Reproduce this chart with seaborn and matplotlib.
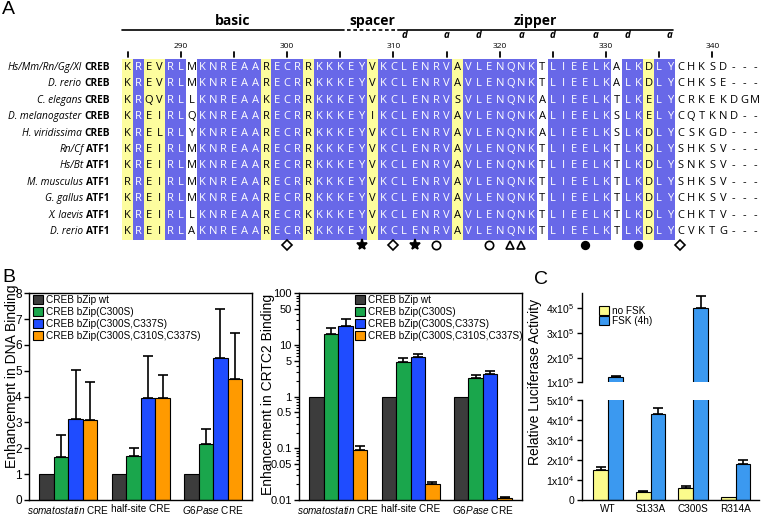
import numpy as np
import pandas as pd
import matplotlib
matplotlib.use("Agg")
import matplotlib.pyplot as plt
from matplotlib.colors import ListedColormap
from matplotlib.patches import Patch
from matplotlib.ticker import NullFormatter, LogLocator
import seaborn as sns

# ---------------- panel A: bZIP alignment ----------------
first_residue = 285
species = ["Hs/Mm/Rn/Gg/Xl", "D. rerio", "C. elegans", "D. melanogaster", "H. viridissima",
           "Rn/Cf", "Hs/Bt", "M. musculus", "G. gallus", "X. laevis", "D. rerio"]
genes = ["CREB"] * 5 + ["ATF1"] * 6
sequences = [
    "KREVRLMKNREAARECRRKKKEYVKCLENRVAVLENQNKTLIEELKALKDLYCHKSD---",
    "KREVRLMKNREAARECRRKKKEYVKCLENRVAVLENQNKTLIEELKALKDLYCHKSE---",
    "KRQVRLLKNREAAKECRRKKKEYVKCLENRVSVLENQNKALIEELKTLKELYCRKEKDGM",
    "KREIRLQKNREAARECRRKKKEYIKCLENRVAVLENQNKALIEELKSLKELYCQTKND--",
    "KRELRLYKNREAARECRRKKKEYVKCLENRVAVLENQNKALIEELKSLKDLYCSKGD---",
    "KREIRLMKNREAARECRRKKKEYVKCLENRVAVLENQNKTLIEELKTLKDLYSHKSV---",
    "KREIRLMKNREAARECRRKKKEYVKCLENRVAVLENQNKTLIEELKTLKDLYSNKSV---",
    "RREIRLMKNREAARECRRKKKEYVKCLENRVAVLENQNKTLIEELKTLKDLYSHKSV---",
    "KREIRLMKNREAARECRRKKKEYVKCLENRVAVLENQNKTLIEELKTLKDLYCHKSV---",
    "KREIRLLKNREAARECRKKKKEYVKCLENRVAVLENQNKTLIEELKTLKDLYCHKTV---",
    "KREIRLAKNREAARECRRKKKEYVKCLENRVAVLENQNKTLIEELKTLKDLYCVKTG---",
]
# 0 = not conserved, 1 = similar, 2 = identical
conservation = ("1211220" "222222" "1" "222" "1" "22222" "1" "2222222" "1"
                "2222222" "0" "222222" "0" "22" "1" "22" "00000000")
domains = [("basic", 284.5, 305.3, "-"), ("spacer", 305.6, 310.4, (0, (2.2, 1.6))),
           ("zipper", 310.4, 336.3, "-")]
heptad_d = [311, 318, 325, 332]
heptad_a = [315, 322, 329, 336]
site_open_diamond = [300, 310, 337]
site_star = [307, 312]
site_open_circle = [314, 319]
site_open_triangle = [321, 322]
site_filled_circle = [328, 333]

# ---------------- panel B ----------------
cre_sites = [r"$\mathit{somatostatin}$ CRE", "half-site CRE", r"$\mathit{G6Pase}$ CRE"]
constructs = ["CREB bZip wt", "CREB bZip(C300S)", "CREB bZip(C300S,C337S)",
              "CREB bZip(C300S,C310S,C337S)"]
dna_values = [[1, 1, 1], [1.65, 1.70, 2.18], [3.15, 3.93, 5.50], [3.08, 3.95, 4.68]]
dna_errors = [[0, 0, 0], [0.85, 0.30, 0.58], [1.90, 1.65, 1.90], [1.50, 0.90, 1.80]]
crtc2_values = [[1, 1, 1], [16.3, 4.76, 2.26], [23.3, 5.86, 2.75], [0.093, 0.020, 0.0108]]
crtc2_errors = [[0, 0, 0], [5.4, 0.93, 0.37], [8.1, 0.84, 0.39], [0.020, 0.0026, 0.0005]]
crtc2_ticks = [0.01, 0.05, 0.1, 0.5, 1, 5, 10, 50, 100]
crtc2_ticklabels = ["0.01", "0.05", "0.1", "0.5", "1", "5", "10", "50", "100"]

# ---------------- panel C ----------------
mutants = ["WT", "S133A", "C300S", "R314A"]
treatments = ["no FSK", "FSK (4h)"]
luc_no_fsk = [1.5e4, 4.2e3, 5.9e3, 1.3e3]
luc_no_fsk_err = [1.5e3, 4e2, 9e2, 0]
luc_fsk = [1.2e5, 4.32e4, 4.0e5, 1.81e4]
luc_fsk_err = [7e3, 3e3, 5e4, 1.9e3]
low_ticks = [0, 1e4, 2e4, 3e4, 4e4, 5e4]
low_ticklabels = ["0", "1x10$^4$", "2x10$^4$", "3x10$^4$", "4x10$^4$", "5x10$^4$"]
high_ticks = [1e5, 2e5, 3e5, 4e5]
high_ticklabels = ["1x10$^5$", "2x10$^5$", "3x10$^5$", "4x10$^5$"]

bar_colors = ["#3c3c3c", "#1aa64c", "#1f4cff", "#ff9a00"]
luc_colors = ["#fbfb8c", "#3b99f0"]

sns.set_style("ticks", {"axes.edgecolor": "black", "xtick.color": "black",
                        "ytick.color": "black", "text.color": "black",
                        "axes.labelcolor": "black"})
plt.rcParams.update({
    "font.family": ["Liberation Sans", "DejaVu Sans"],
    "mathtext.fontset": "custom",
    "mathtext.rm": "Liberation Sans",
    "mathtext.it": "Liberation Sans:italic",
    "mathtext.bf": "Liberation Sans:bold",
    "mathtext.default": "regular",
    "axes.linewidth": 1.0,
})

W, H = 761, 515
fig = plt.figure(figsize=(W / 100, H / 100), dpi=100)


def px_axes(left, top, right, bottom):
    return fig.add_axes([left / W, 1 - bottom / H, (right - left) / W, (bottom - top) / H])


def col(p):
    return p - first_residue + 0.5


# ---- A ----
ax_a = px_axes(122.4, 59, 760.2, 240)
shade = np.array([[int(c) for c in conservation]] * len(sequences))
letters = np.array([list(s) for s in sequences])
sns.heatmap(shade, ax=ax_a, cmap=ListedColormap(["white", "#fdfd9e", "#6868e8"]),
            vmin=-0.5, vmax=2.5, cbar=False, annot=letters, fmt="",
            annot_kws={"fontsize": 8, "family": "Open Sans"},
            xticklabels=False, yticklabels=False)
for t in ax_a.texts:
    t.set_color("white" if t.get_color() == "w" else "black")

for name, start, end, ls in domains:
    ax_a.plot([col(start), col(end)], [-1.76, -1.76], color="black", lw=1.2, ls=ls,
              clip_on=False)
    ax_a.text(col((start + end) / 2), -2.3, name, ha="center", va="center",
              fontsize=10, fontweight="bold", family="Open Sans")
for p in heptad_d:
    ax_a.text(col(p), -1.42, "d", ha="center", va="center", fontsize=7,
              style="italic", fontweight="bold", family="Open Sans")
for p in heptad_a:
    ax_a.text(col(p), -1.42, "a", ha="center", va="center", fontsize=7,
              style="italic", fontweight="bold", family="Open Sans")
for p in range(first_residue, 341, 5):
    ax_a.plot([col(p), col(p)], [-0.43, -0.12], color="black", lw=1.3, clip_on=False)
    if p % 10 == 0:
        ax_a.text(col(p), -0.74, str(p), ha="center", va="center", fontsize=6,
                  family="Open Sans")

marker_sets = [(site_open_diamond, "D", "white", 5),
               (site_star, "*", "black", 8),
               (site_open_circle, "o", "white", 6),
               (site_open_triangle, "^", "white", 5.5),
               (site_filled_circle, "o", "black", 5.5)]
for sites, mk, fc, ms in marker_sets:
    ax_a.plot([col(p) for p in sites], [11.3] * len(sites), ls="none", marker=mk,
              mfc=fc, mec="black", ms=ms, mew=1.2, clip_on=False)

for r, (sp, gene) in enumerate(zip(species, genes)):
    g = ax_a.text(-1.17, r + 0.5, gene, ha="right", va="center", fontsize=7.3,
                  fontweight="bold", family="Open Sans")
    ax_a.annotate(sp, xy=(0, 0.5), xycoords=g, xytext=(-2.2, 0),
                  textcoords="offset points", ha="right", va="center",
                  fontsize=7.3, style="italic", family="Open Sans")


# ---- helpers ----
def long_form(values, cats, levels):
    rows = [(c, lv, v) for lv, vals in zip(levels, values) for c, v in zip(cats, vals)]
    return pd.DataFrame(rows, columns=["cat", "level", "value"])


def add_errors(ax, errors):
    for bars, errs in zip(ax.containers, errors):
        for bar, e in zip(bars, errs):
            if e <= 0:
                continue
            xc = bar.get_x() + bar.get_width() / 2
            top = bar.get_y() + bar.get_height()
            ax.errorbar(xc, top, yerr=[[0], [e]], fmt="none", ecolor="black",
                        elinewidth=1.2, capsize=3.6, capthick=1.2, zorder=1)


def style_ticks(ax, ysize=8):
    ax.set_xlabel("")
    ax.set_ylabel("")
    ax.tick_params(axis="x", length=0, labelsize=7.2, pad=3)
    ax.tick_params(axis="y", length=3.5, width=1, labelsize=ysize, pad=2)


# ---- B left ----
ax_b1 = px_axes(29.3, 293.3, 252.3, 500)
sns.barplot(data=long_form(dna_values, cre_sites, constructs), x="cat", y="value",
            hue="level", palette=bar_colors, saturation=1, width=0.8,
            edgecolor="black", linewidth=0.8, errorbar=None, legend=False, ax=ax_b1)
add_errors(ax_b1, dna_errors)
ax_b1.set_xlim(-0.54, 2.54)
ax_b1.set_ylim(0, 8)
ax_b1.set_yticks(range(0, 9))
style_ticks(ax_b1, 8.5)
handles = [Patch(facecolor=c, edgecolor="black", linewidth=0.8) for c in bar_colors]
ax_b1.legend(handles, constructs, loc="upper left", bbox_to_anchor=(0.017, 0.99),
             frameon=False, fontsize=7.2, handlelength=1.0, handleheight=1.0,
             handletextpad=0.3, labelspacing=0.2, borderaxespad=0, borderpad=0)
fig.text(11.7 / W, 1 - 376.5 / H, "Enhancement in DNA Binding", rotation=90,
         ha="center", va="center", fontsize=10)

# ---- B right ----
ax_b2 = px_axes(299.3, 293.3, 522, 500)
sns.barplot(data=long_form(crtc2_values, cre_sites, constructs), x="cat", y="value",
            hue="level", palette=bar_colors, saturation=1, width=0.8,
            edgecolor="black", linewidth=0.8, errorbar=None, legend=False, ax=ax_b2)
ax_b2.set_yscale("log")
add_errors(ax_b2, crtc2_errors)
ax_b2.set_xlim(-0.54, 2.54)
ax_b2.set_ylim(0.01, 100)
ax_b2.set_yticks(crtc2_ticks)
ax_b2.set_yticklabels(crtc2_ticklabels)
ax_b2.yaxis.set_minor_locator(LogLocator(base=10, subs=np.arange(2, 10)))
ax_b2.yaxis.set_minor_formatter(NullFormatter())
style_ticks(ax_b2, 8)
ax_b2.tick_params(axis="y", which="minor", length=2, width=0.8)
ax_b2.legend(handles, constructs, loc="upper left", bbox_to_anchor=(0.25, 0.99),
             frameon=False, fontsize=7.2, handlelength=1.0, handleheight=1.0,
             handletextpad=0.3, labelspacing=0.2, borderaxespad=0, borderpad=0)
fig.text(268.3 / W, 1 - 394 / H, "Enhancement in CRTC2 Binding", rotation=90,
         ha="center", va="center", fontsize=10)

# ---- C (broken axis) ----
ax_c_top = px_axes(581.7, 293.3, 759, 382.3)
ax_c_low = px_axes(581.7, 400, 759, 500)
luc_df = long_form([luc_no_fsk, luc_fsk], mutants, treatments)
for ax in (ax_c_top, ax_c_low):
    sns.barplot(data=luc_df, x="cat", y="value", hue="level", palette=luc_colors,
                saturation=1, width=0.7, edgecolor="black", linewidth=0.8,
                errorbar=None, legend=False, ax=ax)
    add_errors(ax, [luc_no_fsk_err, luc_fsk_err])
    ax.set_xlim(-0.62, 3.55)
    style_ticks(ax, 7.5)
    sns.despine(ax=ax)
ax_c_low.set_ylim(0, 5e4)
ax_c_low.set_yticks(low_ticks)
ax_c_low.set_yticklabels(low_ticklabels)
ax_c_top.set_ylim(1e5, 4.61e5)
ax_c_top.set_yticks(high_ticks)
ax_c_top.set_yticklabels(high_ticklabels)
ax_c_top.spines["bottom"].set_visible(False)
ax_c_top.tick_params(axis="x", bottom=False, labelbottom=False)
luc_handles = [Patch(facecolor=c, edgecolor="black", linewidth=0.8) for c in luc_colors]
ax_c_top.legend(luc_handles, treatments, loc="upper left", bbox_to_anchor=(0.1, 0.86),
                frameon=False, fontsize=7.2, handlelength=1.0, handleheight=1.0,
                handletextpad=0.3, labelspacing=0.05, borderaxespad=0, borderpad=0)
fig.text(535.5 / W, 1 - 381.5 / H, "Relative Luciferase Activity", rotation=90,
         ha="center", va="center", fontsize=10)

# ---- panel letters ----
fig.text(2 / W, 1 - 9 / H, "A", fontsize=14, va="center")
fig.text(2 / W, 1 - 278 / H, "B", fontsize=14, va="center")
fig.text(534 / W, 1 - 280 / H, "C", fontsize=14, va="center")

fig.savefig("out.png", dpi=100)
